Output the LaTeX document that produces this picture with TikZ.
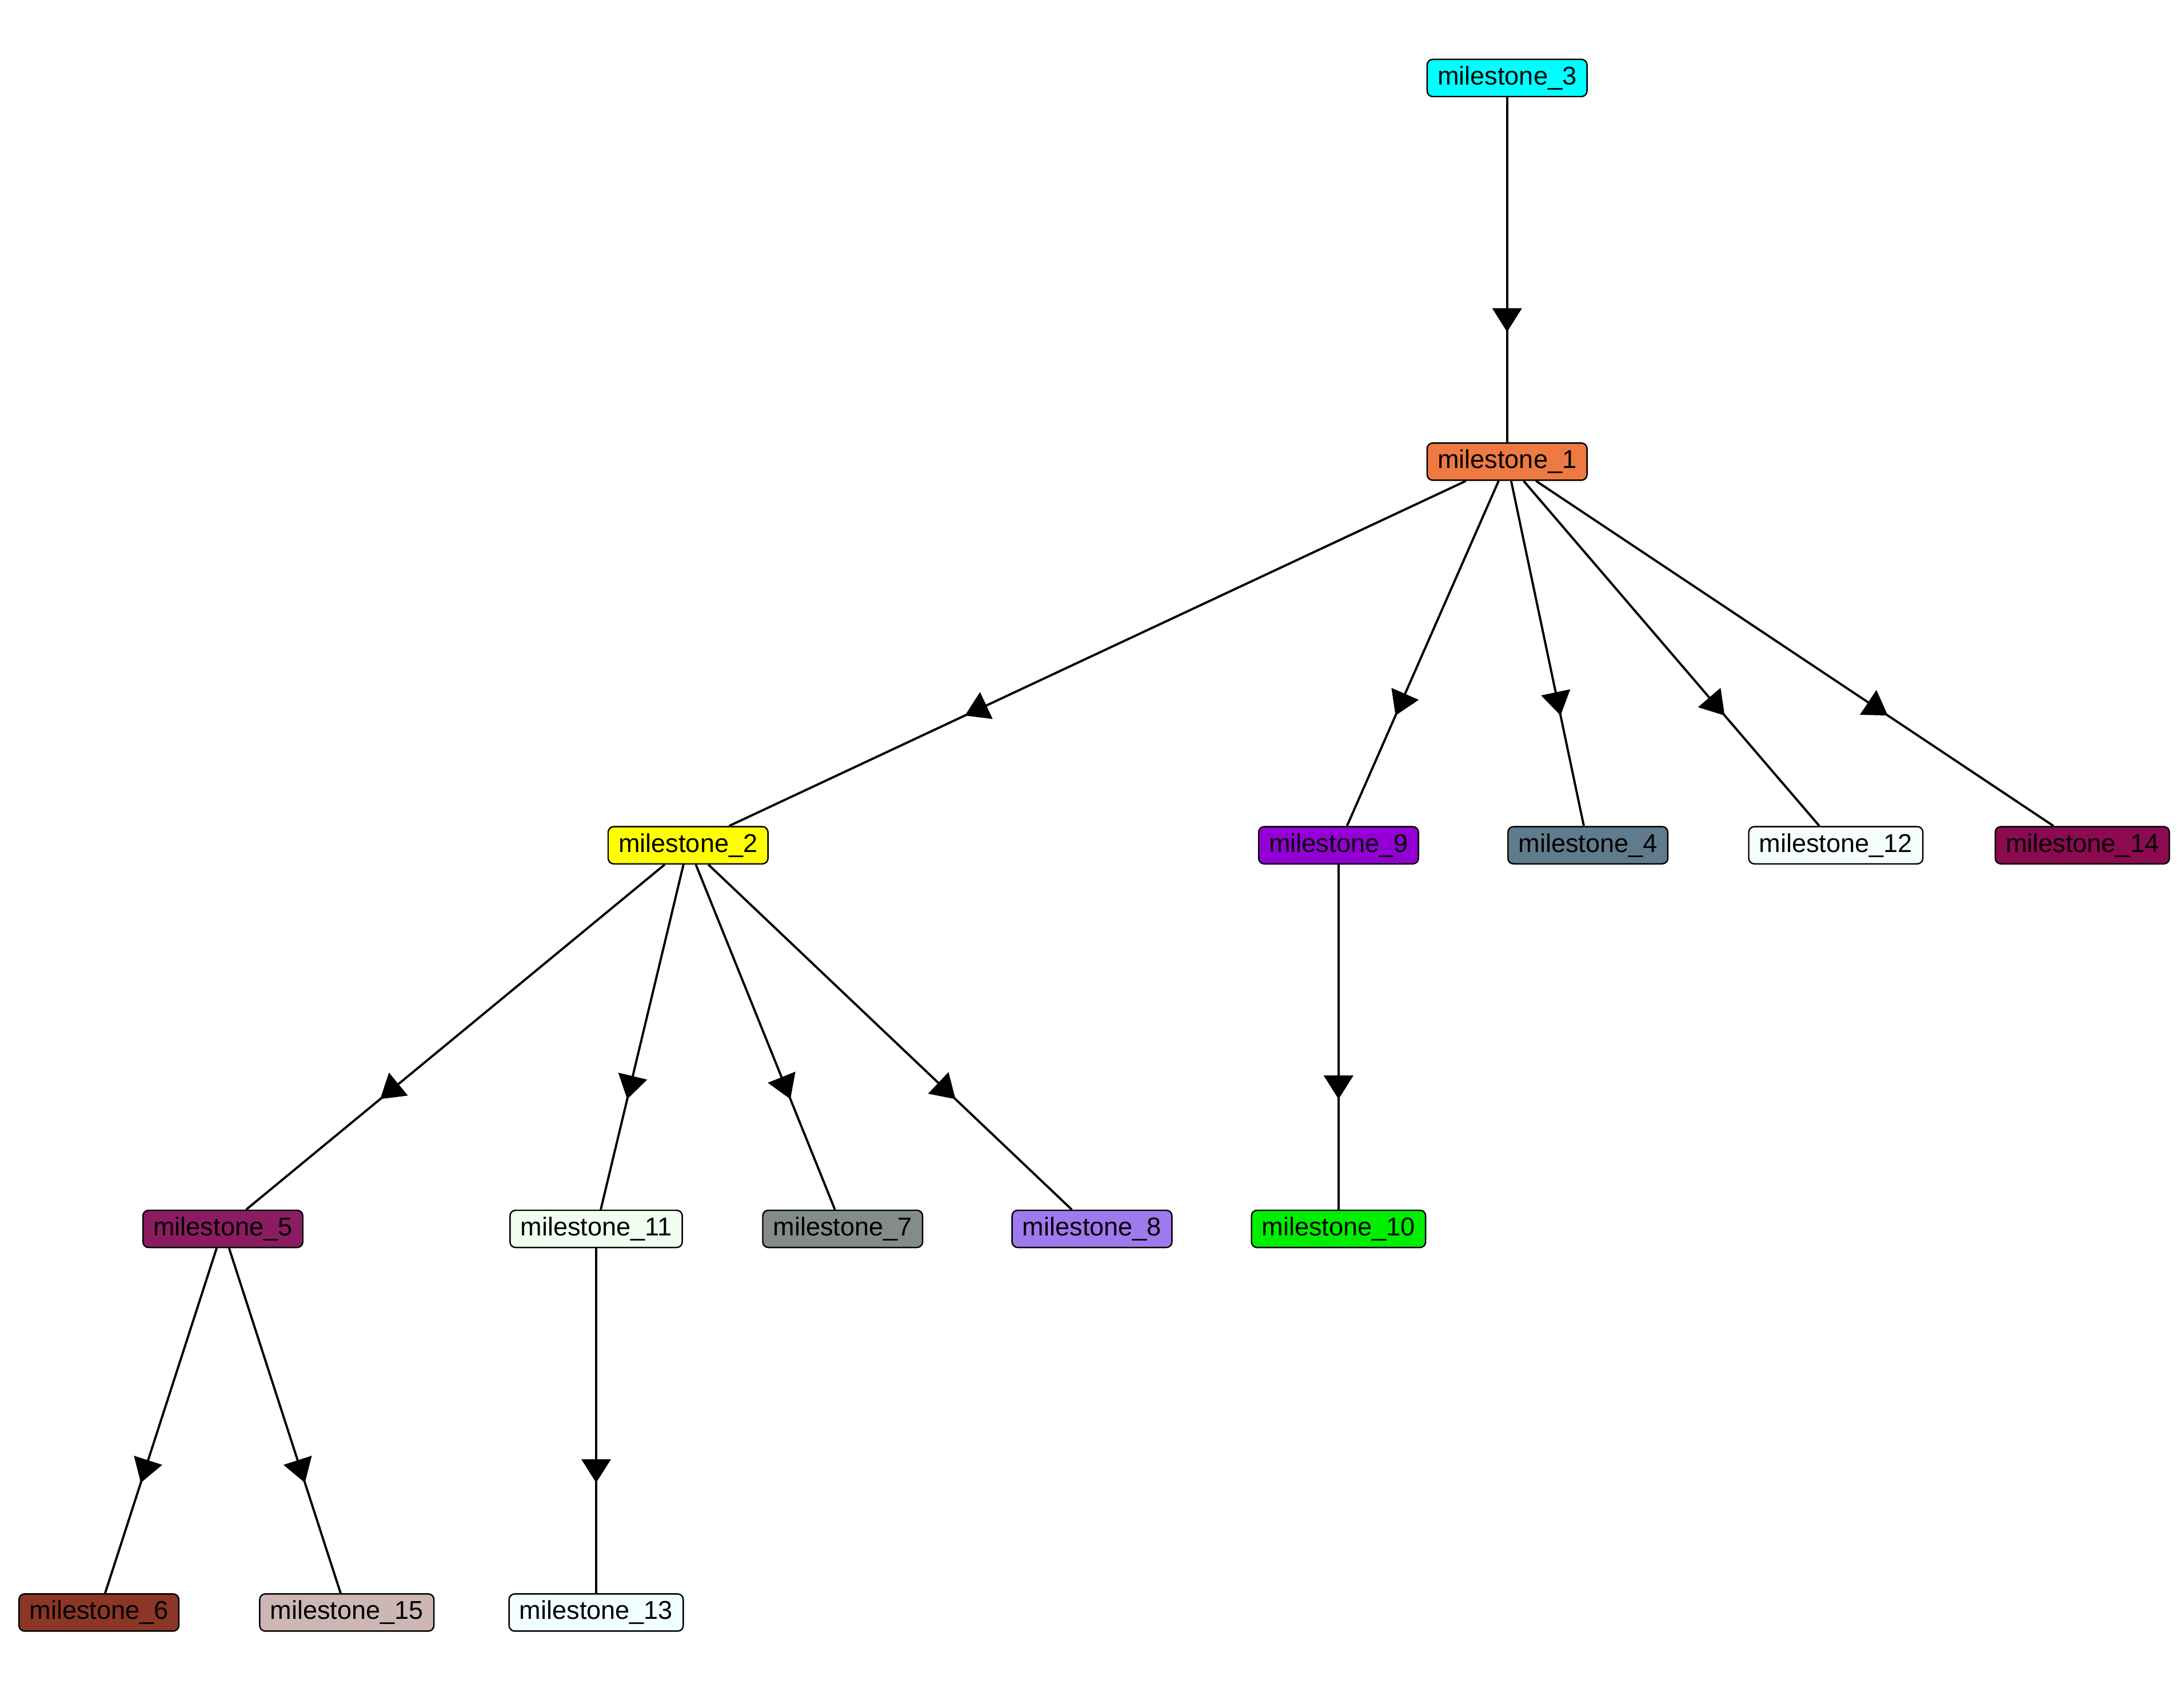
\documentclass[tikz,border=0pt]{standalone}
\usepackage{fontspec}
\setmainfont{Liberation Sans}
\usepackage{xcolor}
\definecolor{ms-cyan}{RGB}{0,255,255}
\definecolor{ms-yellow}{RGB}{255,255,0}
\definecolor{ms-orange}{RGB}{238,121,66}
\definecolor{ms-violet}{RGB}{148,0,211}
\definecolor{ms-slate}{RGB}{96,123,139}
\definecolor{ms-mint}{RGB}{245,255,250}
\definecolor{ms-pink}{RGB}{139,10,80}
\definecolor{ms-maroon}{RGB}{139,28,98}
\definecolor{ms-honey}{RGB}{240,255,240}
\definecolor{ms-grey}{RGB}{131,139,139}
\definecolor{ms-purple}{RGB}{159,121,238}
\definecolor{ms-green}{RGB}{0,238,0}
\definecolor{ms-tomato}{RGB}{139,54,38}
\definecolor{ms-rose}{RGB}{205,183,181}
\definecolor{ms-azure}{RGB}{240,255,255}
\usepackage{tikz}
\usetikzlibrary{arrows.meta,decorations.markings}

\begin{document}
\begin{tikzpicture}[x=1pt,y=-1pt,
	ms/.style={draw,line width=1pt,rounded corners=4pt,inner xsep=7.5pt,inner ysep=0pt,
		minimum height=26.7pt,font=\fontsize{18.5}{22}\selectfont},
	flow/.style={line width=1.6pt,postaction={decorate},
		decoration={markings,mark=at position .68 with {\arrow{Triangle[length=17pt,width=21pt]}}}}]
	\useasboundingbox (0,0) rectangle (1568,1212);
	
	\path
		(1082,  56)   node[ms,fill=ms-cyan]    (M3)  {milestone\_3}
		(1082, 331.5) node[ms,fill=ms-orange]  (M1)  {milestone\_1};
	
	\path
		( 494,607) node[ms,fill=ms-yellow] (M2)  {milestone\_2}
		( 961,607) node[ms,fill=ms-violet] (M9)  {milestone\_9}
		(1140,607) node[ms,fill=ms-slate]  (M4)  {milestone\_4}
		(1318,607) node[ms,fill=ms-mint]   (M12) {milestone\_12}
		(1495,607) node[ms,fill=ms-pink]   (M14) {milestone\_14};
	
	\path
		( 160,882.5) node[ms,fill=ms-maroon] (M5)  {milestone\_5}
		( 428,882.5) node[ms,fill=ms-honey]  (M11) {milestone\_11}
		( 605,882.5) node[ms,fill=ms-grey]   (M7)  {milestone\_7}
		( 784,882.5) node[ms,fill=ms-purple] (M8)  {milestone\_8}
		( 961,882.5) node[ms,fill=ms-green]  (M10) {milestone\_10};
	
	\path
		(  71,1158) node[ms,fill=ms-tomato] (M6)  {milestone\_6}
		( 249,1158) node[ms,fill=ms-rose]   (M15) {milestone\_15}
		( 428,1158) node[ms,fill=ms-azure]  (M13) {milestone\_13};
	
%	=======================================
	
	\draw[flow] (M3)--(M1);
	\draw[flow] (M1)--(M2);
	\draw[flow] (M1)--(M9);
	\draw[flow] (M1)--(M4);
	\draw[flow] (M1)--(M12);
	\draw[flow] (M1)--(M14);
	\draw[flow] (M2)--(M5);
	\draw[flow] (M2)--(M11);
	\draw[flow] (M2)--(M7);
	\draw[flow] (M2)--(M8);
	\draw[flow] (M9)--(M10);
	\draw[flow] (M5)--(M6);
	\draw[flow] (M5)--(M15);
	\draw[flow] (M11)--(M13);
\end{tikzpicture}
\end{document}
